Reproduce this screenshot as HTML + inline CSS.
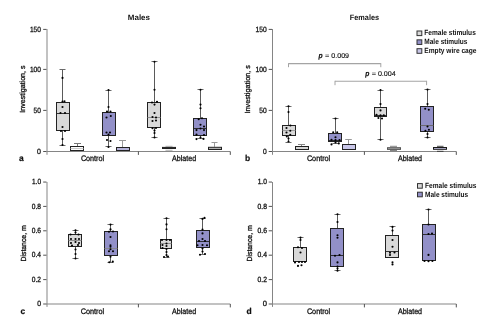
<!DOCTYPE html>
<html><head><meta charset="utf-8"><style>
html,body{margin:0;padding:0;background:#fff;width:496px;height:331px;overflow:hidden}
svg{display:block;font-family:"Liberation Sans", sans-serif;will-change:transform;text-rendering:geometricPrecision}
</style></head><body>
<svg width="496" height="331" viewBox="0 0 496 331">
<rect width="496" height="331" fill="#fff"/>
<text x="127.8" y="19.6" font-size="7.8" font-weight="bold" font-style="normal" fill="#111" stroke="#111" stroke-width="0" textLength="22.20" lengthAdjust="spacingAndGlyphs">Males</text>
<line x1="46.9" y1="151.5" x2="230.3" y2="151.5" stroke="#858585" stroke-width="1"/>
<line x1="138.4" y1="151.5" x2="138.4" y2="154.9" stroke="#4a4a4a" stroke-width="0.95"/>
<line x1="230.3" y1="151.5" x2="230.3" y2="154.9" stroke="#4a4a4a" stroke-width="0.95"/>
<line x1="47.0" y1="29.0" x2="47.0" y2="154.8" stroke="#858585" stroke-width="1"/>
<line x1="43.2" y1="151.5" x2="46.5" y2="151.5" stroke="#4a4a4a" stroke-width="0.95"/>
<text x="37.0" y="153.95" font-size="7.6" font-weight="normal" font-style="normal" fill="#111" stroke="#111" stroke-width="0.3" textLength="3.90" lengthAdjust="spacingAndGlyphs">0</text>
<line x1="43.2" y1="110.4" x2="46.5" y2="110.4" stroke="#4a4a4a" stroke-width="0.95"/>
<text x="33.6" y="112.85000000000001" font-size="7.6" font-weight="normal" font-style="normal" fill="#111" stroke="#111" stroke-width="0.3" textLength="7.30" lengthAdjust="spacingAndGlyphs">50</text>
<line x1="43.2" y1="69.4" x2="46.5" y2="69.4" stroke="#4a4a4a" stroke-width="0.95"/>
<text x="29.9" y="71.85000000000001" font-size="7.6" font-weight="normal" font-style="normal" fill="#111" stroke="#111" stroke-width="0.3" textLength="11.00" lengthAdjust="spacingAndGlyphs">100</text>
<line x1="43.2" y1="29.4" x2="46.5" y2="29.4" stroke="#4a4a4a" stroke-width="0.95"/>
<text x="29.9" y="31.849999999999998" font-size="7.6" font-weight="normal" font-style="normal" fill="#111" stroke="#111" stroke-width="0.3" textLength="11.00" lengthAdjust="spacingAndGlyphs">150</text>
<text x="0" y="0" transform="translate(24.9 112.7) rotate(-90)" font-size="7.4" fill="#111" stroke="#111" stroke-width="0.3" textLength="47.20" lengthAdjust="spacingAndGlyphs">Investigation, s</text>
<text x="19.0" y="160.7" font-size="8.5" font-weight="bold" font-style="normal" fill="#111" stroke="#111" stroke-width="0.2" textLength="4.70" lengthAdjust="spacingAndGlyphs">a</text>
<text x="80.9" y="160.9" font-size="8.0" font-weight="normal" font-style="normal" fill="#111" stroke="#111" stroke-width="0.3" textLength="23.20" lengthAdjust="spacingAndGlyphs">Control</text>
<text x="172.0" y="160.9" font-size="8.0" font-weight="normal" font-style="normal" fill="#111" stroke="#111" stroke-width="0.3" textLength="24.20" lengthAdjust="spacingAndGlyphs">Ablated</text>
<line x1="62.5" y1="69.5" x2="62.5" y2="102" stroke="#5a5a5a" stroke-width="1"/>
<line x1="59.5" y1="69.5" x2="65.5" y2="69.5" stroke="#6a6a6a" stroke-width="1"/>
<line x1="62.5" y1="131" x2="62.5" y2="145.5" stroke="#5a5a5a" stroke-width="1"/>
<line x1="59.5" y1="145.5" x2="65.5" y2="145.5" stroke="#6a6a6a" stroke-width="1"/>
<rect x="56.5" y="102.5" width="13" height="28" fill="#d9d9d9" stroke="#222" stroke-width="1"/>
<line x1="56.5" y1="113.5" x2="69.5" y2="113.5" stroke="#222" stroke-width="0.9"/>
<circle cx="62.5" cy="77.9" r="1.05" fill="#000"/>
<circle cx="62.5" cy="101.5" r="1.05" fill="#000"/>
<circle cx="64.5" cy="101.2" r="1.05" fill="#000"/>
<circle cx="62.5" cy="107" r="1.05" fill="#000"/>
<circle cx="60.5" cy="113" r="1.05" fill="#000"/>
<circle cx="65" cy="113" r="1.05" fill="#000"/>
<circle cx="62.5" cy="127" r="1.05" fill="#000"/>
<circle cx="61" cy="131" r="1.05" fill="#000"/>
<circle cx="65" cy="131" r="1.05" fill="#000"/>
<circle cx="62.5" cy="139" r="1.05" fill="#000"/>
<circle cx="62.5" cy="145" r="1.05" fill="#000"/>
<line x1="77.5" y1="143.5" x2="77.5" y2="146" stroke="#777" stroke-width="1"/>
<line x1="74.0" y1="143.5" x2="81.0" y2="143.5" stroke="#777" stroke-width="1"/>
<rect x="70.5" y="146.5" width="13" height="4" fill="#fbfbfb" stroke="#222" stroke-width="1"/>
<line x1="70.5" y1="148.5" x2="83.5" y2="148.5" stroke="#c4c4c4" stroke-width="0.9"/>
<line x1="108.5" y1="90.5" x2="108.5" y2="112" stroke="#5a5a5a" stroke-width="1"/>
<line x1="105.5" y1="90.5" x2="111.5" y2="90.5" stroke="#6a6a6a" stroke-width="1"/>
<line x1="108.5" y1="136" x2="108.5" y2="146.5" stroke="#5a5a5a" stroke-width="1"/>
<line x1="105.5" y1="146.5" x2="111.5" y2="146.5" stroke="#6a6a6a" stroke-width="1"/>
<rect x="102.5" y="112.5" width="13" height="23" fill="#9290c8" stroke="#222" stroke-width="1"/>
<circle cx="108.5" cy="90" r="1.05" fill="#000"/>
<circle cx="108.5" cy="107" r="1.05" fill="#000"/>
<circle cx="107" cy="111.5" r="1.05" fill="#000"/>
<circle cx="110.5" cy="111.5" r="1.05" fill="#000"/>
<circle cx="106.5" cy="117.5" r="1.05" fill="#000"/>
<circle cx="110.8" cy="116" r="1.05" fill="#000"/>
<circle cx="106.5" cy="132.5" r="1.05" fill="#000"/>
<circle cx="110" cy="132.5" r="1.05" fill="#000"/>
<circle cx="108.5" cy="134.5" r="1.05" fill="#000"/>
<circle cx="107" cy="140" r="1.05" fill="#000"/>
<circle cx="110.5" cy="141" r="1.05" fill="#000"/>
<circle cx="108.5" cy="147" r="1.05" fill="#000"/>
<line x1="122.5" y1="140.5" x2="122.5" y2="147" stroke="#999" stroke-width="1"/>
<line x1="119.0" y1="140.5" x2="126.0" y2="140.5" stroke="#999" stroke-width="1"/>
<rect x="116.5" y="147.5" width="13" height="3" fill="#b5b3d8" stroke="#222" stroke-width="1"/>
<line x1="154.5" y1="61.5" x2="154.5" y2="102" stroke="#5a5a5a" stroke-width="1"/>
<line x1="151.5" y1="61.5" x2="157.5" y2="61.5" stroke="#6a6a6a" stroke-width="1"/>
<line x1="154.5" y1="128" x2="154.5" y2="137.5" stroke="#5a5a5a" stroke-width="1"/>
<line x1="151.5" y1="137.5" x2="157.5" y2="137.5" stroke="#6a6a6a" stroke-width="1"/>
<rect x="147.5" y="102.5" width="13" height="25" fill="#d9d9d9" stroke="#222" stroke-width="1"/>
<line x1="147.5" y1="117.5" x2="160.5" y2="117.5" stroke="#888" stroke-width="0.9"/>
<circle cx="154.5" cy="61.8" r="1.05" fill="#000"/>
<circle cx="154.5" cy="89.7" r="1.05" fill="#000"/>
<circle cx="152" cy="102.5" r="1.05" fill="#000"/>
<circle cx="157" cy="101.8" r="1.05" fill="#000"/>
<circle cx="154.5" cy="104.6" r="1.05" fill="#000"/>
<circle cx="154.5" cy="113" r="1.05" fill="#000"/>
<circle cx="152.5" cy="117" r="1.05" fill="#000"/>
<circle cx="156" cy="117.5" r="1.05" fill="#000"/>
<circle cx="152.5" cy="121" r="1.05" fill="#000"/>
<circle cx="156" cy="120.5" r="1.05" fill="#000"/>
<circle cx="152.5" cy="128.3" r="1.05" fill="#000"/>
<circle cx="156" cy="128" r="1.05" fill="#000"/>
<circle cx="154.5" cy="130.5" r="1.05" fill="#000"/>
<circle cx="154.5" cy="133" r="1.05" fill="#000"/>
<circle cx="154.5" cy="137.5" r="1.05" fill="#000"/>
<line x1="165.5" y1="146.3" x2="172.5" y2="146.3" stroke="#aaa" stroke-width="0.9"/>
<line x1="165.5" y1="150.3" x2="172.5" y2="150.3" stroke="#aaa" stroke-width="0.9"/>
<rect x="162.5" y="147.4" width="13" height="1.0999999999999943" fill="#222" stroke="#222" stroke-width="1"/>
<line x1="200.5" y1="89.5" x2="200.5" y2="118" stroke="#5a5a5a" stroke-width="1"/>
<line x1="197.5" y1="89.5" x2="203.5" y2="89.5" stroke="#6a6a6a" stroke-width="1"/>
<line x1="200.5" y1="136" x2="200.5" y2="138.5" stroke="#5a5a5a" stroke-width="1"/>
<line x1="197.5" y1="138.5" x2="203.5" y2="138.5" stroke="#6a6a6a" stroke-width="1"/>
<rect x="193.5" y="118.5" width="13" height="17" fill="#9290c8" stroke="#222" stroke-width="1"/>
<line x1="193.5" y1="128.5" x2="206.5" y2="128.5" stroke="#222" stroke-width="0.9"/>
<circle cx="200.5" cy="89.7" r="1.05" fill="#000"/>
<circle cx="200.5" cy="104.6" r="1.05" fill="#000"/>
<circle cx="200.5" cy="108.3" r="1.05" fill="#000"/>
<circle cx="198.7" cy="119.2" r="1.05" fill="#000"/>
<circle cx="202" cy="118.2" r="1.05" fill="#000"/>
<circle cx="200.5" cy="124.7" r="1.05" fill="#000"/>
<circle cx="204" cy="126.5" r="1.05" fill="#000"/>
<circle cx="200.5" cy="128.5" r="1.05" fill="#000"/>
<circle cx="196.5" cy="130.1" r="1.05" fill="#000"/>
<circle cx="204" cy="130.1" r="1.05" fill="#000"/>
<circle cx="196.5" cy="134.6" r="1.05" fill="#000"/>
<circle cx="204" cy="135" r="1.05" fill="#000"/>
<circle cx="196.5" cy="139.1" r="1.05" fill="#000"/>
<circle cx="200.5" cy="137.6" r="1.05" fill="#000"/>
<circle cx="203.5" cy="138.9" r="1.05" fill="#000"/>
<line x1="214.5" y1="142.5" x2="214.5" y2="146.8" stroke="#999" stroke-width="1"/>
<line x1="211.5" y1="142.5" x2="217.5" y2="142.5" stroke="#999" stroke-width="1"/>
<rect x="208.5" y="147.3" width="13" height="2.1999999999999886" fill="#b0b0b0" stroke="#222" stroke-width="1"/>
<text x="349.8" y="19.6" font-size="7.8" font-weight="bold" font-style="normal" fill="#111" stroke="#111" stroke-width="0" textLength="29.30" lengthAdjust="spacingAndGlyphs">Females</text>
<line x1="272.5" y1="151.5" x2="456.3" y2="151.5" stroke="#858585" stroke-width="1"/>
<line x1="364.4" y1="151.5" x2="364.4" y2="154.9" stroke="#4a4a4a" stroke-width="0.95"/>
<line x1="456.3" y1="151.5" x2="456.3" y2="154.9" stroke="#4a4a4a" stroke-width="0.95"/>
<line x1="272.5" y1="29.0" x2="272.5" y2="154.8" stroke="#858585" stroke-width="1"/>
<line x1="268.7" y1="151.5" x2="272.0" y2="151.5" stroke="#4a4a4a" stroke-width="0.95"/>
<text x="263.0" y="153.95" font-size="7.6" font-weight="normal" font-style="normal" fill="#111" stroke="#111" stroke-width="0.3" textLength="3.70" lengthAdjust="spacingAndGlyphs">0</text>
<line x1="268.7" y1="110.4" x2="272.0" y2="110.4" stroke="#4a4a4a" stroke-width="0.95"/>
<text x="259.3" y="112.85000000000001" font-size="7.6" font-weight="normal" font-style="normal" fill="#111" stroke="#111" stroke-width="0.3" textLength="7.40" lengthAdjust="spacingAndGlyphs">50</text>
<line x1="268.7" y1="69.4" x2="272.0" y2="69.4" stroke="#4a4a4a" stroke-width="0.95"/>
<text x="255.6" y="71.85000000000001" font-size="7.6" font-weight="normal" font-style="normal" fill="#111" stroke="#111" stroke-width="0.3" textLength="11.10" lengthAdjust="spacingAndGlyphs">100</text>
<line x1="268.7" y1="29.4" x2="272.0" y2="29.4" stroke="#4a4a4a" stroke-width="0.95"/>
<text x="255.6" y="31.849999999999998" font-size="7.6" font-weight="normal" font-style="normal" fill="#111" stroke="#111" stroke-width="0.3" textLength="11.10" lengthAdjust="spacingAndGlyphs">150</text>
<text x="0" y="0" transform="translate(250.3 113.4) rotate(-90)" font-size="7.4" fill="#111" stroke="#111" stroke-width="0.3" textLength="48.20" lengthAdjust="spacingAndGlyphs">Investigation, s</text>
<text x="245.0" y="160.7" font-size="8.5" font-weight="bold" font-style="normal" fill="#111" stroke="#111" stroke-width="0.2" textLength="5.20" lengthAdjust="spacingAndGlyphs">b</text>
<text x="306.9" y="160.9" font-size="8.0" font-weight="normal" font-style="normal" fill="#111" stroke="#111" stroke-width="0.3" textLength="23.30" lengthAdjust="spacingAndGlyphs">Control</text>
<text x="397.9" y="160.9" font-size="8.0" font-weight="normal" font-style="normal" fill="#111" stroke="#111" stroke-width="0.3" textLength="24.20" lengthAdjust="spacingAndGlyphs">Ablated</text>
<line x1="288.5" y1="106.5" x2="288.5" y2="125" stroke="#5a5a5a" stroke-width="1"/>
<line x1="285.5" y1="106.5" x2="291.5" y2="106.5" stroke="#6a6a6a" stroke-width="1"/>
<line x1="288.5" y1="136" x2="288.5" y2="142.5" stroke="#5a5a5a" stroke-width="1"/>
<line x1="285.5" y1="142.5" x2="291.5" y2="142.5" stroke="#6a6a6a" stroke-width="1"/>
<rect x="282.5" y="125.5" width="13" height="10" fill="#d9d9d9" stroke="#222" stroke-width="1"/>
<line x1="282.5" y1="130.5" x2="295.5" y2="130.5" stroke="#999" stroke-width="0.9"/>
<circle cx="288.5" cy="106.3" r="1.05" fill="#000"/>
<circle cx="288.5" cy="112.1" r="1.05" fill="#000"/>
<circle cx="290.4" cy="125.5" r="1.05" fill="#000"/>
<circle cx="286.5" cy="128" r="1.05" fill="#000"/>
<circle cx="290.3" cy="130.8" r="1.05" fill="#000"/>
<circle cx="286.5" cy="132.5" r="1.05" fill="#000"/>
<circle cx="290.3" cy="134.8" r="1.05" fill="#000"/>
<circle cx="286.8" cy="136.5" r="1.05" fill="#000"/>
<circle cx="288.5" cy="138.5" r="1.05" fill="#000"/>
<circle cx="288.5" cy="141.5" r="1.05" fill="#000"/>
<line x1="301.5" y1="144.5" x2="301.5" y2="146" stroke="#888" stroke-width="1"/>
<line x1="298.0" y1="144.5" x2="305.0" y2="144.5" stroke="#888" stroke-width="1"/>
<rect x="295.5" y="146.5" width="13" height="3" fill="#d6d6d6" stroke="#222" stroke-width="1"/>
<line x1="335.5" y1="118.5" x2="335.5" y2="133" stroke="#5a5a5a" stroke-width="1"/>
<line x1="332.5" y1="118.5" x2="338.5" y2="118.5" stroke="#6a6a6a" stroke-width="1"/>
<line x1="335.5" y1="142" x2="335.5" y2="143.5" stroke="#5a5a5a" stroke-width="1"/>
<line x1="332.5" y1="143.5" x2="338.5" y2="143.5" stroke="#6a6a6a" stroke-width="1"/>
<rect x="328.5" y="133.5" width="13" height="8" fill="#9290c8" stroke="#222" stroke-width="1"/>
<line x1="328.5" y1="140.5" x2="341.5" y2="140.5" stroke="#222" stroke-width="0.9"/>
<circle cx="335.5" cy="118.5" r="1.05" fill="#000"/>
<circle cx="333.2" cy="132.3" r="1.05" fill="#000"/>
<circle cx="337.2" cy="132.3" r="1.05" fill="#000"/>
<circle cx="335.5" cy="137.2" r="1.05" fill="#000"/>
<circle cx="331.5" cy="139.8" r="1.05" fill="#000"/>
<circle cx="335.5" cy="140" r="1.05" fill="#000"/>
<circle cx="339.5" cy="140" r="1.05" fill="#000"/>
<circle cx="331.5" cy="144.4" r="1.05" fill="#000"/>
<circle cx="335.5" cy="142.5" r="1.05" fill="#000"/>
<circle cx="338.8" cy="143.4" r="1.05" fill="#000"/>
<line x1="348.5" y1="139.5" x2="348.5" y2="144" stroke="#999" stroke-width="1"/>
<line x1="345.2" y1="139.5" x2="351.8" y2="139.5" stroke="#999" stroke-width="1"/>
<rect x="342.5" y="144.5" width="13" height="5" fill="#c8c6e8" stroke="#222" stroke-width="1"/>
<line x1="380.5" y1="90.5" x2="380.5" y2="107" stroke="#5a5a5a" stroke-width="1"/>
<line x1="377.5" y1="90.5" x2="383.5" y2="90.5" stroke="#6a6a6a" stroke-width="1"/>
<line x1="380.5" y1="117" x2="380.5" y2="139.5" stroke="#5a5a5a" stroke-width="1"/>
<line x1="377.5" y1="139.5" x2="383.5" y2="139.5" stroke="#6a6a6a" stroke-width="1"/>
<rect x="374.5" y="107.5" width="12" height="9" fill="#d9d9d9" stroke="#222" stroke-width="1"/>
<line x1="374.5" y1="115.5" x2="386.5" y2="115.5" stroke="#222" stroke-width="0.9"/>
<circle cx="380.5" cy="90" r="1.05" fill="#000"/>
<circle cx="380.5" cy="104.1" r="1.05" fill="#000"/>
<circle cx="380.5" cy="110.4" r="1.05" fill="#000"/>
<circle cx="376.5" cy="114.7" r="1.05" fill="#000"/>
<circle cx="380.5" cy="115.3" r="1.05" fill="#000"/>
<circle cx="383.8" cy="115.3" r="1.05" fill="#000"/>
<circle cx="378.4" cy="118" r="1.05" fill="#000"/>
<circle cx="382" cy="118.5" r="1.05" fill="#000"/>
<circle cx="380.5" cy="139.75" r="1.05" fill="#000"/>
<line x1="390" y1="146.3" x2="397" y2="146.3" stroke="#777" stroke-width="0.9"/>
<line x1="390" y1="150.5" x2="397" y2="150.5" stroke="#777" stroke-width="0.9"/>
<rect x="387.5" y="147.7" width="13" height="1.700000000000017" fill="#a8a8a8" stroke="#555" stroke-width="1"/>
<line x1="427.5" y1="89.5" x2="427.5" y2="106" stroke="#5a5a5a" stroke-width="1"/>
<line x1="424.5" y1="89.5" x2="430.5" y2="89.5" stroke="#6a6a6a" stroke-width="1"/>
<line x1="427.5" y1="132" x2="427.5" y2="137.5" stroke="#5a5a5a" stroke-width="1"/>
<line x1="424.5" y1="137.5" x2="430.5" y2="137.5" stroke="#6a6a6a" stroke-width="1"/>
<rect x="420.5" y="106.5" width="13" height="25" fill="#9290c8" stroke="#222" stroke-width="1"/>
<line x1="420.5" y1="125.5" x2="433.5" y2="125.5" stroke="#666" stroke-width="0.9"/>
<circle cx="427.5" cy="89.6" r="1.05" fill="#000"/>
<circle cx="427.5" cy="104" r="1.05" fill="#000"/>
<circle cx="425.2" cy="108.7" r="1.05" fill="#000"/>
<circle cx="428.8" cy="109.7" r="1.05" fill="#000"/>
<circle cx="427.5" cy="126.5" r="1.05" fill="#000"/>
<circle cx="425.4" cy="130.7" r="1.05" fill="#000"/>
<circle cx="428.9" cy="129.8" r="1.05" fill="#000"/>
<circle cx="427.5" cy="134" r="1.05" fill="#000"/>
<circle cx="427.5" cy="137.5" r="1.05" fill="#000"/>
<line x1="437" y1="146.3" x2="443.5" y2="146.3" stroke="#333" stroke-width="0.9"/>
<line x1="437" y1="151.3" x2="443.5" y2="151.3" stroke="#333" stroke-width="0.9"/>
<rect x="433.5" y="147.5" width="13" height="1.8000000000000114" fill="#c8c6e8" stroke="#1a1a1a" stroke-width="1"/>
<line x1="288.5" y1="63.6" x2="380.8" y2="63.6" stroke="#a4a4a4" stroke-width="1.1"/>
<line x1="288.5" y1="63.2" x2="288.5" y2="67.2" stroke="#a4a4a4" stroke-width="1"/>
<line x1="380.8" y1="63.2" x2="380.8" y2="67.2" stroke="#a4a4a4" stroke-width="1"/>
<line x1="335" y1="81.3" x2="426.6" y2="81.3" stroke="#a4a4a4" stroke-width="1.1"/>
<line x1="335" y1="80.8" x2="335" y2="85.2" stroke="#a4a4a4" stroke-width="1"/>
<line x1="426.6" y1="80.8" x2="426.6" y2="85.2" stroke="#a4a4a4" stroke-width="1"/>
<text x="318.5" y="58.3" font-size="7.6" font-weight="bold" font-style="italic" fill="#111" stroke="#111" stroke-width="0.2" textLength="4.10" lengthAdjust="spacingAndGlyphs">p</text>
<text x="325.0" y="57.9" font-size="6.6" font-weight="normal" font-style="normal" fill="#111" stroke="#111" stroke-width="0.05" textLength="4.30" lengthAdjust="spacingAndGlyphs">=</text>
<text x="331.2" y="58.1" font-size="6.8" font-weight="normal" font-style="normal" fill="#111" stroke="#111" stroke-width="0.12" textLength="17.90" lengthAdjust="spacingAndGlyphs">0.009</text>
<text x="365.2" y="76.0" font-size="7.6" font-weight="bold" font-style="italic" fill="#111" stroke="#111" stroke-width="0.2" textLength="4.10" lengthAdjust="spacingAndGlyphs">p</text>
<text x="371.7" y="75.6" font-size="6.6" font-weight="normal" font-style="normal" fill="#111" stroke="#111" stroke-width="0.05" textLength="4.30" lengthAdjust="spacingAndGlyphs">=</text>
<text x="377.9" y="75.8" font-size="6.8" font-weight="normal" font-style="normal" fill="#111" stroke="#111" stroke-width="0.12" textLength="17.90" lengthAdjust="spacingAndGlyphs">0.004</text>
<rect x="417" y="31.0" width="4.8" height="4.6" fill="#d9d9d9" stroke="#333" stroke-width="1"/>
<text x="424.3" y="35.3" font-size="7.6" font-weight="bold" font-style="normal" fill="#111" stroke="#111" stroke-width="0.0" textLength="51.50" lengthAdjust="spacingAndGlyphs">Female stimulus</text>
<rect x="417" y="39.85" width="4.8" height="4.6" fill="#9290c8" stroke="#333" stroke-width="1"/>
<text x="424.3" y="44.15" font-size="7.6" font-weight="bold" font-style="normal" fill="#111" stroke="#111" stroke-width="0.0" textLength="43.20" lengthAdjust="spacingAndGlyphs">Male stimulus</text>
<rect x="417" y="48.7" width="4.8" height="4.6" fill="#c8c6e8" stroke="#333" stroke-width="1"/>
<text x="424.3" y="53.0" font-size="7.6" font-weight="bold" font-style="normal" fill="#111" stroke="#111" stroke-width="0.0" textLength="52.20" lengthAdjust="spacingAndGlyphs">Empty wire cage</text>
<line x1="46.5" y1="304.0" x2="230.3" y2="304.0" stroke="#858585" stroke-width="1"/>
<line x1="138.4" y1="304.0" x2="138.4" y2="307.4" stroke="#4a4a4a" stroke-width="0.95"/>
<line x1="230.3" y1="304.0" x2="230.3" y2="307.4" stroke="#4a4a4a" stroke-width="0.95"/>
<line x1="47.0" y1="182.0" x2="47.0" y2="306.9" stroke="#858585" stroke-width="1"/>
<line x1="43.2" y1="304.0" x2="46.5" y2="304.0" stroke="#4a4a4a" stroke-width="0.95"/>
<text x="37.2" y="306.2" font-size="7.6" font-weight="normal" font-style="normal" fill="#111" stroke="#111" stroke-width="0.3" textLength="3.80" lengthAdjust="spacingAndGlyphs">0</text>
<line x1="43.2" y1="279.6" x2="46.5" y2="279.6" stroke="#4a4a4a" stroke-width="0.95"/>
<text x="31.8" y="281.8" font-size="7.6" font-weight="normal" font-style="normal" fill="#111" stroke="#111" stroke-width="0.3" textLength="9.20" lengthAdjust="spacingAndGlyphs">0.2</text>
<line x1="43.2" y1="255.2" x2="46.5" y2="255.2" stroke="#4a4a4a" stroke-width="0.95"/>
<text x="31.8" y="257.4" font-size="7.6" font-weight="normal" font-style="normal" fill="#111" stroke="#111" stroke-width="0.3" textLength="9.20" lengthAdjust="spacingAndGlyphs">0.4</text>
<line x1="43.2" y1="230.8" x2="46.5" y2="230.8" stroke="#4a4a4a" stroke-width="0.95"/>
<text x="31.8" y="233.0" font-size="7.6" font-weight="normal" font-style="normal" fill="#111" stroke="#111" stroke-width="0.3" textLength="9.20" lengthAdjust="spacingAndGlyphs">0.6</text>
<line x1="43.2" y1="206.4" x2="46.5" y2="206.4" stroke="#4a4a4a" stroke-width="0.95"/>
<text x="31.8" y="208.6" font-size="7.6" font-weight="normal" font-style="normal" fill="#111" stroke="#111" stroke-width="0.3" textLength="9.20" lengthAdjust="spacingAndGlyphs">0.8</text>
<line x1="43.2" y1="182.05" x2="46.5" y2="182.05" stroke="#4a4a4a" stroke-width="0.95"/>
<text x="32.0" y="184.25" font-size="7.6" font-weight="normal" font-style="normal" fill="#111" stroke="#111" stroke-width="0.3" textLength="9.00" lengthAdjust="spacingAndGlyphs">1.0</text>
<text x="0" y="0" transform="translate(25.6 261.5) rotate(-90)" font-size="7.4" fill="#111" stroke="#111" stroke-width="0.3" textLength="36.20" lengthAdjust="spacingAndGlyphs">Distance, m</text>
<text x="20.6" y="314.1" font-size="8.5" font-weight="bold" font-style="normal" fill="#111" stroke="#111" stroke-width="0.2" textLength="4.70" lengthAdjust="spacingAndGlyphs">c</text>
<text x="80.7" y="313.8" font-size="8.0" font-weight="normal" font-style="normal" fill="#111" stroke="#111" stroke-width="0.3" textLength="23.40" lengthAdjust="spacingAndGlyphs">Control</text>
<text x="172.0" y="313.8" font-size="8.0" font-weight="normal" font-style="normal" fill="#111" stroke="#111" stroke-width="0.3" textLength="24.20" lengthAdjust="spacingAndGlyphs">Ablated</text>
<line x1="75.5" y1="230.5" x2="75.5" y2="234" stroke="#5a5a5a" stroke-width="1"/>
<line x1="72.5" y1="230.5" x2="78.5" y2="230.5" stroke="#6a6a6a" stroke-width="1"/>
<line x1="75.5" y1="247" x2="75.5" y2="258.5" stroke="#5a5a5a" stroke-width="1"/>
<line x1="72.5" y1="258.5" x2="78.5" y2="258.5" stroke="#6a6a6a" stroke-width="1"/>
<rect x="68.5" y="234.5" width="13" height="12" fill="#d9d9d9" stroke="#222" stroke-width="1"/>
<line x1="68.5" y1="240.5" x2="81.5" y2="240.5" stroke="#888" stroke-width="0.9"/>
<circle cx="75.5" cy="230.3" r="1.05" fill="#000"/>
<circle cx="75.5" cy="232.5" r="1.05" fill="#000"/>
<circle cx="70.5" cy="234.5" r="1.05" fill="#000"/>
<circle cx="78.5" cy="234.5" r="1.05" fill="#000"/>
<circle cx="71" cy="239" r="1.05" fill="#000"/>
<circle cx="75.5" cy="239" r="1.05" fill="#000"/>
<circle cx="79" cy="239" r="1.05" fill="#000"/>
<circle cx="71" cy="243" r="1.05" fill="#000"/>
<circle cx="75.5" cy="242" r="1.05" fill="#000"/>
<circle cx="79" cy="243" r="1.05" fill="#000"/>
<circle cx="72" cy="245.5" r="1.05" fill="#000"/>
<circle cx="78" cy="245" r="1.05" fill="#000"/>
<circle cx="75.5" cy="249.5" r="1.05" fill="#000"/>
<circle cx="75.5" cy="254" r="1.05" fill="#000"/>
<circle cx="75.5" cy="258.5" r="1.05" fill="#000"/>
<line x1="110.5" y1="224.5" x2="110.5" y2="231" stroke="#5a5a5a" stroke-width="1"/>
<line x1="107.5" y1="224.5" x2="113.5" y2="224.5" stroke="#6a6a6a" stroke-width="1"/>
<line x1="110.5" y1="256" x2="110.5" y2="262.5" stroke="#5a5a5a" stroke-width="1"/>
<line x1="107.5" y1="262.5" x2="113.5" y2="262.5" stroke="#6a6a6a" stroke-width="1"/>
<rect x="104.5" y="231.5" width="13" height="24" fill="#9290c8" stroke="#222" stroke-width="1"/>
<line x1="104.5" y1="248.5" x2="117.5" y2="248.5" stroke="#888" stroke-width="0.9"/>
<circle cx="110.5" cy="224.6" r="1.05" fill="#000"/>
<circle cx="110.5" cy="229.4" r="1.05" fill="#000"/>
<circle cx="109" cy="231.8" r="1.05" fill="#000"/>
<circle cx="113" cy="231.5" r="1.05" fill="#000"/>
<circle cx="110.5" cy="237" r="1.05" fill="#000"/>
<circle cx="110.5" cy="245.3" r="1.05" fill="#000"/>
<circle cx="110.5" cy="246.8" r="1.05" fill="#000"/>
<circle cx="110.5" cy="249.2" r="1.05" fill="#000"/>
<circle cx="109" cy="251.3" r="1.05" fill="#000"/>
<circle cx="113" cy="251.3" r="1.05" fill="#000"/>
<circle cx="110.5" cy="256.8" r="1.05" fill="#000"/>
<circle cx="109.3" cy="262.3" r="1.05" fill="#000"/>
<circle cx="112.8" cy="261.6" r="1.05" fill="#000"/>
<line x1="166.5" y1="218.5" x2="166.5" y2="239" stroke="#5a5a5a" stroke-width="1"/>
<line x1="163.5" y1="218.5" x2="169.5" y2="218.5" stroke="#6a6a6a" stroke-width="1"/>
<line x1="166.5" y1="249" x2="166.5" y2="257.5" stroke="#5a5a5a" stroke-width="1"/>
<line x1="163.5" y1="257.5" x2="169.5" y2="257.5" stroke="#6a6a6a" stroke-width="1"/>
<rect x="160.5" y="239.5" width="11" height="9" fill="#d9d9d9" stroke="#222" stroke-width="1"/>
<line x1="160.5" y1="243.5" x2="171.5" y2="243.5" stroke="#888" stroke-width="0.9"/>
<circle cx="166.5" cy="218.3" r="1.05" fill="#000"/>
<circle cx="166.5" cy="224.4" r="1.05" fill="#000"/>
<circle cx="166.5" cy="229.2" r="1.05" fill="#000"/>
<circle cx="162" cy="240" r="1.05" fill="#000"/>
<circle cx="166.5" cy="240" r="1.05" fill="#000"/>
<circle cx="170" cy="240" r="1.05" fill="#000"/>
<circle cx="166.5" cy="243.5" r="1.05" fill="#000"/>
<circle cx="162.5" cy="245" r="1.05" fill="#000"/>
<circle cx="166.5" cy="246" r="1.05" fill="#000"/>
<circle cx="162.5" cy="248" r="1.05" fill="#000"/>
<circle cx="166.5" cy="249" r="1.05" fill="#000"/>
<circle cx="166.5" cy="252" r="1.05" fill="#000"/>
<circle cx="166.5" cy="255" r="1.05" fill="#000"/>
<circle cx="164" cy="257" r="1.05" fill="#000"/>
<circle cx="168" cy="256.5" r="1.05" fill="#000"/>
<line x1="202.5" y1="218.5" x2="202.5" y2="230" stroke="#5a5a5a" stroke-width="1"/>
<line x1="199.5" y1="218.5" x2="205.5" y2="218.5" stroke="#6a6a6a" stroke-width="1"/>
<line x1="202.5" y1="248" x2="202.5" y2="254.5" stroke="#5a5a5a" stroke-width="1"/>
<line x1="199.5" y1="254.5" x2="205.5" y2="254.5" stroke="#6a6a6a" stroke-width="1"/>
<rect x="196.5" y="230.5" width="13" height="17" fill="#9290c8" stroke="#222" stroke-width="1"/>
<line x1="196.5" y1="241.5" x2="209.5" y2="241.5" stroke="#222" stroke-width="0.9"/>
<circle cx="202.5" cy="218.9" r="1.05" fill="#000"/>
<circle cx="204.5" cy="217.9" r="1.05" fill="#000"/>
<circle cx="202.5" cy="229.6" r="1.05" fill="#000"/>
<circle cx="202.5" cy="233.4" r="1.05" fill="#000"/>
<circle cx="202.5" cy="239" r="1.05" fill="#000"/>
<circle cx="199" cy="241" r="1.05" fill="#000"/>
<circle cx="205" cy="241" r="1.05" fill="#000"/>
<circle cx="197.5" cy="245.2" r="1.05" fill="#000"/>
<circle cx="202.5" cy="245" r="1.05" fill="#000"/>
<circle cx="207" cy="245.2" r="1.05" fill="#000"/>
<circle cx="202.5" cy="248.5" r="1.05" fill="#000"/>
<circle cx="202.5" cy="251.5" r="1.05" fill="#000"/>
<circle cx="200" cy="254.7" r="1.05" fill="#000"/>
<circle cx="205" cy="254" r="1.05" fill="#000"/>
<line x1="272.25" y1="304.0" x2="456.3" y2="304.0" stroke="#858585" stroke-width="1"/>
<line x1="364.4" y1="304.0" x2="364.4" y2="307.4" stroke="#4a4a4a" stroke-width="0.95"/>
<line x1="456.3" y1="304.0" x2="456.3" y2="307.4" stroke="#4a4a4a" stroke-width="0.95"/>
<line x1="272.5" y1="182.0" x2="272.5" y2="306.9" stroke="#858585" stroke-width="1"/>
<line x1="268.7" y1="304.0" x2="272.0" y2="304.0" stroke="#4a4a4a" stroke-width="0.95"/>
<text x="262.7" y="306.2" font-size="7.6" font-weight="normal" font-style="normal" fill="#111" stroke="#111" stroke-width="0.3" textLength="4.20" lengthAdjust="spacingAndGlyphs">0</text>
<line x1="268.7" y1="279.6" x2="272.0" y2="279.6" stroke="#4a4a4a" stroke-width="0.95"/>
<text x="257.5" y="281.8" font-size="7.6" font-weight="normal" font-style="normal" fill="#111" stroke="#111" stroke-width="0.3" textLength="9.40" lengthAdjust="spacingAndGlyphs">0.2</text>
<line x1="268.7" y1="255.2" x2="272.0" y2="255.2" stroke="#4a4a4a" stroke-width="0.95"/>
<text x="257.5" y="257.4" font-size="7.6" font-weight="normal" font-style="normal" fill="#111" stroke="#111" stroke-width="0.3" textLength="9.40" lengthAdjust="spacingAndGlyphs">0.4</text>
<line x1="268.7" y1="230.8" x2="272.0" y2="230.8" stroke="#4a4a4a" stroke-width="0.95"/>
<text x="257.5" y="233.0" font-size="7.6" font-weight="normal" font-style="normal" fill="#111" stroke="#111" stroke-width="0.3" textLength="9.40" lengthAdjust="spacingAndGlyphs">0.6</text>
<line x1="268.7" y1="206.4" x2="272.0" y2="206.4" stroke="#4a4a4a" stroke-width="0.95"/>
<text x="257.5" y="208.6" font-size="7.6" font-weight="normal" font-style="normal" fill="#111" stroke="#111" stroke-width="0.3" textLength="9.40" lengthAdjust="spacingAndGlyphs">0.8</text>
<line x1="268.7" y1="182.05" x2="272.0" y2="182.05" stroke="#4a4a4a" stroke-width="0.95"/>
<text x="257.7" y="184.25" font-size="7.6" font-weight="normal" font-style="normal" fill="#111" stroke="#111" stroke-width="0.3" textLength="9.20" lengthAdjust="spacingAndGlyphs">1.0</text>
<text x="0" y="0" transform="translate(251.6 261.5) rotate(-90)" font-size="7.4" fill="#111" stroke="#111" stroke-width="0.3" textLength="36.20" lengthAdjust="spacingAndGlyphs">Distance, m</text>
<text x="246.6" y="313.7" font-size="8.5" font-weight="bold" font-style="normal" fill="#111" stroke="#111" stroke-width="0.2" textLength="5.20" lengthAdjust="spacingAndGlyphs">d</text>
<text x="306.9" y="313.8" font-size="8.0" font-weight="normal" font-style="normal" fill="#111" stroke="#111" stroke-width="0.3" textLength="23.30" lengthAdjust="spacingAndGlyphs">Control</text>
<text x="397.9" y="313.8" font-size="8.0" font-weight="normal" font-style="normal" fill="#111" stroke="#111" stroke-width="0.3" textLength="24.20" lengthAdjust="spacingAndGlyphs">Ablated</text>
<line x1="300.5" y1="237.5" x2="300.5" y2="247" stroke="#5a5a5a" stroke-width="1"/>
<line x1="297.5" y1="237.5" x2="303.5" y2="237.5" stroke="#6a6a6a" stroke-width="1"/>
<rect x="293.5" y="247.5" width="13" height="14" fill="#d9d9d9" stroke="#222" stroke-width="1"/>
<circle cx="300.5" cy="237.6" r="1.05" fill="#000"/>
<circle cx="300.5" cy="240" r="1.05" fill="#000"/>
<circle cx="298" cy="247.2" r="1.05" fill="#000"/>
<circle cx="302" cy="248" r="1.05" fill="#000"/>
<circle cx="300.5" cy="252.5" r="1.05" fill="#000"/>
<circle cx="295" cy="262.5" r="1.05" fill="#000"/>
<circle cx="299" cy="262" r="1.05" fill="#000"/>
<circle cx="302" cy="262" r="1.05" fill="#000"/>
<circle cx="305" cy="262" r="1.05" fill="#000"/>
<circle cx="298" cy="265.9" r="1.05" fill="#000"/>
<circle cx="301.5" cy="265.3" r="1.05" fill="#000"/>
<line x1="337.5" y1="214.5" x2="337.5" y2="228" stroke="#5a5a5a" stroke-width="1"/>
<line x1="334.5" y1="214.5" x2="340.5" y2="214.5" stroke="#6a6a6a" stroke-width="1"/>
<line x1="337.5" y1="267" x2="337.5" y2="270.5" stroke="#5a5a5a" stroke-width="1"/>
<line x1="334.5" y1="270.5" x2="340.5" y2="270.5" stroke="#6a6a6a" stroke-width="1"/>
<rect x="330.5" y="228.5" width="13" height="38" fill="#9290c8" stroke="#222" stroke-width="1"/>
<line x1="330.5" y1="255.5" x2="343.5" y2="255.5" stroke="#222" stroke-width="0.9"/>
<circle cx="337.5" cy="214.3" r="1.05" fill="#000"/>
<circle cx="337.5" cy="222" r="1.05" fill="#000"/>
<circle cx="337.5" cy="235.2" r="1.05" fill="#000"/>
<circle cx="337.5" cy="237.8" r="1.05" fill="#000"/>
<circle cx="335" cy="255.8" r="1.05" fill="#000"/>
<circle cx="339.5" cy="255" r="1.05" fill="#000"/>
<circle cx="337.5" cy="262.4" r="1.05" fill="#000"/>
<circle cx="337.5" cy="266.5" r="1.05" fill="#000"/>
<circle cx="337.5" cy="268.6" r="1.05" fill="#000"/>
<circle cx="337.5" cy="270.8" r="1.05" fill="#000"/>
<line x1="392.5" y1="226.5" x2="392.5" y2="235" stroke="#5a5a5a" stroke-width="1"/>
<line x1="389.5" y1="226.5" x2="395.5" y2="226.5" stroke="#6a6a6a" stroke-width="1"/>
<rect x="385.5" y="235.5" width="13" height="22" fill="#d9d9d9" stroke="#222" stroke-width="1"/>
<line x1="385.5" y1="251.5" x2="398.5" y2="251.5" stroke="#222" stroke-width="0.9"/>
<circle cx="392.5" cy="226.9" r="1.05" fill="#000"/>
<circle cx="392.5" cy="230.6" r="1.05" fill="#000"/>
<circle cx="392.5" cy="240" r="1.05" fill="#000"/>
<circle cx="392.5" cy="246.7" r="1.05" fill="#000"/>
<circle cx="390" cy="252.8" r="1.05" fill="#000"/>
<circle cx="394.5" cy="252.5" r="1.05" fill="#000"/>
<circle cx="390" cy="255" r="1.05" fill="#000"/>
<circle cx="392.5" cy="262.3" r="1.05" fill="#000"/>
<circle cx="392.5" cy="264.4" r="1.05" fill="#000"/>
<line x1="428.5" y1="209.5" x2="428.5" y2="224" stroke="#5a5a5a" stroke-width="1"/>
<line x1="425.5" y1="209.5" x2="431.5" y2="209.5" stroke="#6a6a6a" stroke-width="1"/>
<rect x="422.5" y="224.5" width="13" height="36" fill="#9290c8" stroke="#222" stroke-width="1"/>
<line x1="422.5" y1="234.5" x2="435.5" y2="234.5" stroke="#222" stroke-width="0.9"/>
<circle cx="428.5" cy="209.5" r="1.05" fill="#000"/>
<circle cx="428.5" cy="224.5" r="1.05" fill="#000"/>
<circle cx="428.5" cy="234" r="1.05" fill="#000"/>
<circle cx="432" cy="233.5" r="1.05" fill="#000"/>
<circle cx="428.5" cy="254.9" r="1.05" fill="#000"/>
<circle cx="424.5" cy="261" r="1.05" fill="#000"/>
<circle cx="428.5" cy="261.2" r="1.05" fill="#000"/>
<circle cx="432.4" cy="261" r="1.05" fill="#000"/>
<rect x="417.5" y="183.6" width="4.8" height="4.6" fill="#d9d9d9" stroke="#333" stroke-width="1"/>
<text x="425.0" y="188.2" font-size="7.6" font-weight="bold" font-style="normal" fill="#111" stroke="#111" stroke-width="0.0" textLength="51.50" lengthAdjust="spacingAndGlyphs">Female stimulus</text>
<rect x="417.5" y="192.2" width="4.8" height="4.6" fill="#9290c8" stroke="#333" stroke-width="1"/>
<text x="425.0" y="196.79999999999998" font-size="7.6" font-weight="bold" font-style="normal" fill="#111" stroke="#111" stroke-width="0.0" textLength="43.20" lengthAdjust="spacingAndGlyphs">Male stimulus</text>
</svg></body></html>
